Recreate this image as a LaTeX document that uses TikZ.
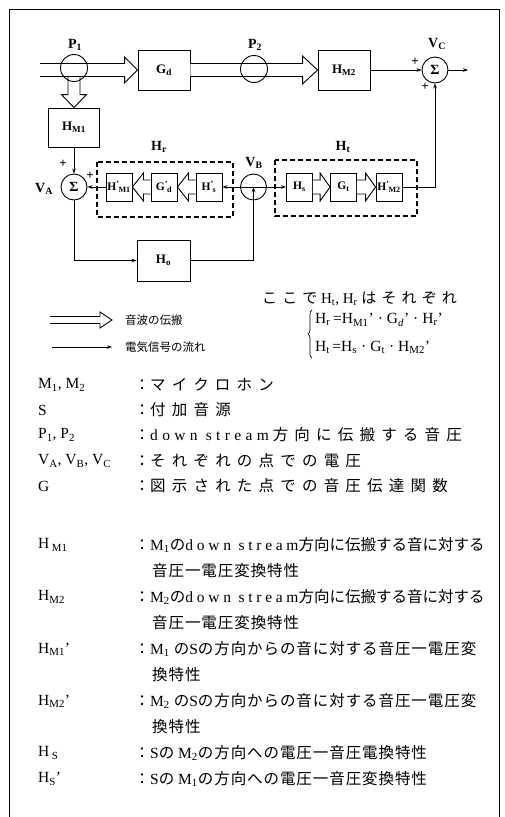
\documentclass[tikz,border=0pt]{standalone}
\usepackage{fontspec}
\setmainfont{Liberation Serif}[Ligatures=TeX]
\newfontfamily\jp{Noto Sans CJK JP}
\newfontfamily\jpl{Noto Sans CJK JP}[LetterSpace=6]
\newfontfamily\jpw{Noto Sans CJK JP}[LetterSpace=40]
\newfontfamily\jpq{Noto Sans CJK JP}[LetterSpace=34]
\newfontfamily\wide{Liberation Serif}[LetterSpace=28]
\newfontfamily\widel{Liberation Serif}[LetterSpace=24]
\usetikzlibrary{arrows.meta,calc,decorations.pathreplacing}
\newcommand\sbs[1]{\textsubscript{#1}}
\newcommand\Hp[2]{#1\textsuperscript{'}\kern-1pt\textsubscript{#2}}
\newcommand\hollow[5]{%
  \coordinate (hb) at ($(#2)!#5!(#1)$);
  \draw[hollowarrow] ($(#1)!#3!90:(#2)$) -- ($(hb)!#3!90:(#2)$) -- ($(hb)!#4!90:(#2)$) -- (#2)
     -- ($(hb)!#4!-90:(#2)$) -- ($(hb)!#3!-90:(#2)$) -- ($(#1)!#3!-90:(#2)$);}
\begin{document}
\begin{tikzpicture}[x=1pt,y=-1pt,
  blk/.style={draw, rectangle, inner sep=0pt, line width=0.9pt, font=\fontsize{13}{13}\selectfont\bfseries},
  sm/.style={draw, rectangle, inner sep=0pt, line width=0.9pt, minimum width=26pt, minimum height=28pt, font=\fontsize{11.5}{11.5}\selectfont\bfseries},
  sumc/.style={draw, circle, inner sep=0pt, minimum size=26pt, line width=0.9pt, font=\fontsize{14}{14}\selectfont\bfseries},
  ring/.style={draw, circle, inner sep=0pt, minimum size=27pt, line width=0.9pt},
  lbl/.style={inner sep=0pt, font=\fontsize{14}{14}\selectfont\bfseries},
  pls/.style={inner sep=0pt, font=\fontsize{13}{13}\selectfont\bfseries},
  sig/.style={line width=0.8pt, -{Stealth[length=5pt,width=3.5pt]}},
  hollowarrow/.style={draw, fill=white, line width=0.9pt, line join=miter},
  dbox/.style={draw, dash pattern=on 5pt off 3pt, line width=1.1pt},
  txt/.style={anchor=west, inner sep=0pt, font=\fontsize{15.5}{15.5}\selectfont},
  colon/.style={inner sep=0pt, font=\fontsize{15.5}{15.5}\selectfont\jp},
  small/.style={anchor=west, inner sep=0pt, font=\fontsize{11.5}{11.5}\selectfont\jp},
]
\useasboundingbox (0,0) rectangle (504,817);
\draw[line width=1pt] (9,817) -- (9,9) -- (499,9) -- (499,817);

% ---------- top row ----------
\node[blk, minimum width=52pt, minimum height=40pt] (Gd) at (164,70) {G\sbs{d}};
\node[blk, minimum width=52pt, minimum height=40pt] (HM2) at (344,70) {H\sbs{M2}};
\node[blk, minimum width=51pt, minimum height=39pt] (HM1) at (74,127.5) {H\sbs{M1}};
\node[sumc] (SC) at (435,70) {Σ};
\coordinate (in) at (40,70);
\coordinate (P1d) at (74,76.5);
\coordinate (out) at (468,70);

\hollow{P1d}{HM1.north}{6pt}{12.5pt}{13pt}
\hollow{in}{Gd.west}{6.5pt}{13pt}{13pt}
\hollow{Gd.east}{HM2.west}{6.5pt}{14pt}{15pt}
\node[ring] (P1c) at (74,68) {};
\node[ring] (P2c) at (254,69) {};
\node[lbl] (P1l) at (75,45) {P\sbs{1}};
\node[lbl] (P2l) at (255,45) {P\sbs{2}};
\node[lbl] (VCl) at (437,44) {V\sbs{C}};
\node[pls] (pc1) at (415,62) {+};
\node[pls] (pc2) at (425,87) {+};

\draw[sig] (HM2.east) -- (SC.west);
\draw[sig] (SC.east) -- (out);

% ---------- middle row ----------
\node[sumc] (SA) at (74,187) {Σ};
\node[lbl] (VAl) at (44,189) {V\sbs{A}};
\node[pls] (pa1) at (63,164) {+};
\node[pls] (pa2) at (90,176) {+};
\draw[sig] (HM1.south) -- (SA.north);

\draw[dbox] (97,162) rectangle (233,217);
\node[lbl] (Hrl) at (159,147) {H\sbs{r}};
\node[sm] (HpM1) at (119,187) {\Hp{H}{M1}};
\node[sm] (Gpd) at (164,187) {\Hp{G}{d}};
\node[sm] (Hps) at (209,187) {\Hp{H}{s}};
\hollow{Gpd.west}{HpM1.east}{7pt}{14pt}{11pt}
\hollow{Hps.west}{Gpd.east}{7pt}{14pt}{11pt}

\node[ring, minimum size=26pt] (VB) at (253.5,187) {};
\node[lbl] (VBl) at (254,163) {V\sbs{B}};
\draw[line width=0.8pt] (VB.west) -- (VB.east);

\draw[dbox] (275,160) rectangle (417,216);
\node[lbl] (Htl) at (343,147) {H\sbs{t}};
\node[sm] (Hs) at (299.5,187) {H\sbs{s}};
\node[sm] (Gt) at (343.5,187) {G\sbs{t}};
\node[sm] (HpM2) at (389,187) {\Hp{H}{M2}};
\hollow{Hs.east}{Gt.west}{7pt}{14pt}{10pt}
\hollow{Gt.east}{HpM2.west}{7pt}{14pt}{10pt}

\draw[sig] (HpM1.west) -- (SA.east);
\draw[sig] (VB.west) -- (Hps.east);
\draw[sig] (VB.east) -- (Hs.west);
\draw[sig] (HpM2.east) -| (SC.south);

% ---------- bottom ----------
\node[blk, minimum width=53pt, minimum height=41pt] (Ho) at (163.5,260.5) {H\sbs{o}};
\draw[sig] (SA.south) |- (Ho.west);
\draw[sig] (Ho.east) -| (VB.center);

% ---------- legend ----------
\coordinate (L1s) at (50,320);
\coordinate (L1e) at (112,320);
\hollow{L1s}{L1e}{3.5pt}{8pt}{12pt}
\node[small] (L1t) at (125,320) {音波の伝搬};
\coordinate (L2s) at (52,347);
\coordinate (L2e) at (112,347);
\draw[sig] (L2s) -- (L2e);
\node[small] (L2t) at (125,347) {電気信号の流れ};

\node[txt, font=\fontsize{15}{15}\selectfont] (koko) at (262,299) {{\jpq ここで} H\sbs{t}, H\sbs{r} {\jpq はそれぞれ}};
\draw[decorate, decoration={brace, amplitude=4pt}, line width=0.7pt] (312,358) -- (312,310);
\node[txt, font=\fontsize{15.5}{15.5}\selectfont] (fr) at (315,320) {H\sbs{r}\,=H\sbs{M1}'\hspace{4pt}·\hspace{4pt}G\sbs{\textit{d}}'\hspace{4pt}·\hspace{4pt}H\sbs{r}'};
\node[txt, font=\fontsize{15.5}{15.5}\selectfont] (ft) at (315,347) {H\sbs{t}\,=H\sbs{s}\hspace{4pt}·\hspace{4pt}G\sbs{t}\hspace{4pt}·\hspace{4pt}H\sbs{M2}'};

% ---------- definitions ----------
\node[txt] (a1) at (38,385) {M\sbs{1}, M\sbs{2}};
\node[colon] (a1c) at (142,385) {：};
\node[txt] (a1t) at (150,385) {\jpw マイクロホン};
\node[txt] (a2) at (38,410) {S};
\node[colon] (a2c) at (142,410) {：};
\node[txt] (a2t) at (150,410) {\jpw 付加音源};
\node[txt] (a3) at (38,435) {P\sbs{1}, P\sbs{2}};
\node[colon] (a3c) at (142,435) {：};
\node[txt] (a3t) at (150,435) {{\wide down stream} {\jpw 方向に伝搬する音圧}};
\node[txt] (a4) at (38,461) {V\sbs{A}, V\sbs{B}, V\sbs{C}};
\node[colon] (a4c) at (142,461) {：};
\node[txt] (a4t) at (150,461) {\jpw それぞれの点での電圧};
\node[txt] (a5) at (38,486) {G};
\node[colon] (a5c) at (142,486) {：};
\node[txt] (a5t) at (150,486) {\jpw 図示された点での音圧伝達関数};

\node[txt] (b1) at (38,545) {H\,\sbs{M1}};
\node[colon] (b1c) at (142,545) {：};
\node[txt] (b1t) at (150,545) {M\sbs{1}{\jp の}{\widel down stream}{\jp 方向に伝搬する音に対する}};
\node[txt] (b1u) at (152,571) {\jpl 音圧一電圧変換特性};
\node[txt] (b2) at (38,597) {H\sbs{M2}};
\node[colon] (b2c) at (142,597) {：};
\node[txt] (b2t) at (150,597) {M\sbs{2}{\jp の}{\widel down stream}{\jp 方向に伝搬する音に対する}};
\node[txt] (b2u) at (152,623) {\jpl 音圧一電圧変換特性};
\node[txt] (b3) at (38,649) {H\sbs{M1}'};
\node[colon] (b3c) at (142,649) {：};
\node[txt] (b3t) at (150,649) {M\sbs{1} {\jpl の}S{\jpl の方向からの音に対する音圧一電圧変}};
\node[txt] (b3u) at (152,675) {\jpl 換特性};
\node[txt] (b4) at (38,701) {H\sbs{M2}'};
\node[colon] (b4c) at (142,701) {：};
\node[txt] (b4t) at (150,701) {M\sbs{2} {\jpl の}S{\jpl の方向からの音に対する音圧一電圧変}};
\node[txt] (b4u) at (152,727) {\jpl 換特性};
\node[txt] (b5) at (38,753) {H\,\sbs{S}};
\node[colon] (b5c) at (142,753) {：};
\node[txt] (b5t) at (150,753) {S{\jpl の} M\sbs{2}{\jpl の方向への電圧一音圧電換特性}};
\node[txt] (b6) at (38,779) {H\sbs{S}'};
\node[colon] (b6c) at (142,779) {：};
\node[txt] (b6t) at (150,779) {S{\jpl の} M\sbs{1}{\jpl の方向への電圧一音圧変換特性}};
\end{tikzpicture}
\end{document}
